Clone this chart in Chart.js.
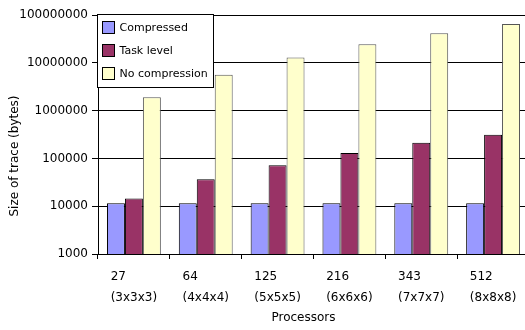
<!DOCTYPE html>
<html>
<head>
<meta charset="utf-8">
<script src="https://cdn.jsdelivr.net/npm/chart.js@4.4.0/dist/chart.umd.min.js"></script>
<style>
    html, body { margin: 0; padding: 0; background: #fff; overflow: hidden; }
    #wrap { width: 530px; height: 330px; }
</style>
</head>
<body>
<div id="wrap"><canvas id="trace-chart" width="530" height="330"></canvas></div>
<script>
// processor counts and their grid shapes
const categories = ['27', '64', '125', '216', '343', '512'];
const gridShapes = ['(3x3x3)', '(4x4x4)', '(5x5x5)', '(6x6x6)', '(7x7x7)', '(8x8x8)'];

// trace sizes in bytes
const compressed = [11500, 11500, 11500, 11500, 11500, 11500];
const taskLevel = [14500, 36500, 72000, 130000, 212000, 312000];
const noCompression = [1900000, 5600000, 12900000, 24500000, 41700000, 64500000];

const yTicks = [1000, 10000, 100000, 1000000, 10000000, 100000000];

const FONT = 'DejaVu Sans';

// legend box in the top-left corner of the plot
const boxLegend = {
    id: 'boxLegend',
    afterDraw(chart) {
        const ctx = chart.ctx;
        const left = chart.chartArea.left - 0.5;
        const top = chart.chartArea.top - 0.5;
        ctx.save();
        ctx.fillStyle = '#fff';
        ctx.strokeStyle = '#000';
        ctx.lineWidth = 1;
        ctx.fillRect(left, top, 116, 73);
        ctx.strokeRect(left, top, 116, 73);
        ctx.font = '11px "' + FONT + '"';
        ctx.textBaseline = 'middle';
        chart.data.datasets.forEach((ds, i) => {
            const cy = top + 13 + i * 23;
            ctx.fillStyle = ds.backgroundColor;
            ctx.fillRect(left + 5, cy - 6, 12, 12);
            ctx.strokeStyle = '#000';
            ctx.strokeRect(left + 5, cy - 6, 12, 12);
            ctx.fillStyle = '#000';
            ctx.fillText(ds.label, left + 22, cy + 1);
        });
        ctx.restore();
    }
};

// two-line category labels, left aligned as a block under each group,
// plus both axis titles
const axisText = {
    id: 'axisText',
    afterDraw(chart) {
        const ctx = chart.ctx;
        const x = chart.scales.x;
        const base = chart.chartArea.bottom;
        ctx.save();
        ctx.font = '12px "' + FONT + '"';
        ctx.fillStyle = '#000';
        ctx.textBaseline = 'middle';
        ctx.textAlign = 'left';
        categories.forEach((c, i) => {
            const cx = x.getPixelForValue(i);
            const w = ctx.measureText(gridShapes[i]).width;
            const lx = cx - w / 2;
            ctx.fillText(c, lx, base + 23);
            ctx.fillText(gridShapes[i], lx, base + 44);
        });
        ctx.textAlign = 'center';
        ctx.fillText('Processors', 303.5, base + 64);

        ctx.translate(15, 156);
        ctx.rotate(-Math.PI / 2);
        ctx.fillText('Size of trace (bytes)', 0, 0);
        ctx.restore();
    }
};

const ctx = document.getElementById('trace-chart').getContext('2d');
new Chart(ctx, {
    type: 'bar',
    data: {
        labels: categories,
        datasets: [{
            label: 'Compressed',
            data: compressed,
            backgroundColor: '#9999ff',
            borderColor: '#000',
            borderWidth: 1
        },
        {
            label: 'Task level',
            data: taskLevel,
            backgroundColor: '#993366',
            borderColor: '#000',
            borderWidth: 1
        },
        {
            label: 'No compression',
            data: noCompression,
            backgroundColor: '#ffffcc',
            borderColor: '#555',
            borderWidth: 1
        }]
    },
    options: {
        responsive: false,
        animation: false,
        layout: { padding: { left: 0, top: 15, right: 1, bottom: 0 } },
        datasets: {
            bar: { categoryPercentage: 0.75, barPercentage: 1.0 }
        },
        plugins: {
            legend: { display: false },
            tooltip: { enabled: false }
        },
        scales: {
            x: {
                grid: {
                    offset: true,
                    drawOnChartArea: false,
                    drawTicks: true,
                    tickLength: 5,
                    color: '#000'
                },
                border: { color: '#000' },
                ticks: { display: false },
                afterFit(scale) { scale.height = 76; }
            },
            y: {
                type: 'logarithmic',
                min: 1000,
                max: 100000000,
                afterBuildTicks(scale) {
                    scale.ticks = yTicks.map(v => ({ value: v }));
                },
                afterFit(scale) { scale.width = 98; },
                grid: {
                    color: '#000',
                    tickLength: 6
                },
                border: { color: '#000' },
                ticks: {
                    padding: 4,
                    color: '#000',
                    font: { family: FONT, size: 12 },
                    callback: v => String(v)
                }
            }
        }
    },
    plugins: [boxLegend, axisText]
});
</script>
</body>
</html>
